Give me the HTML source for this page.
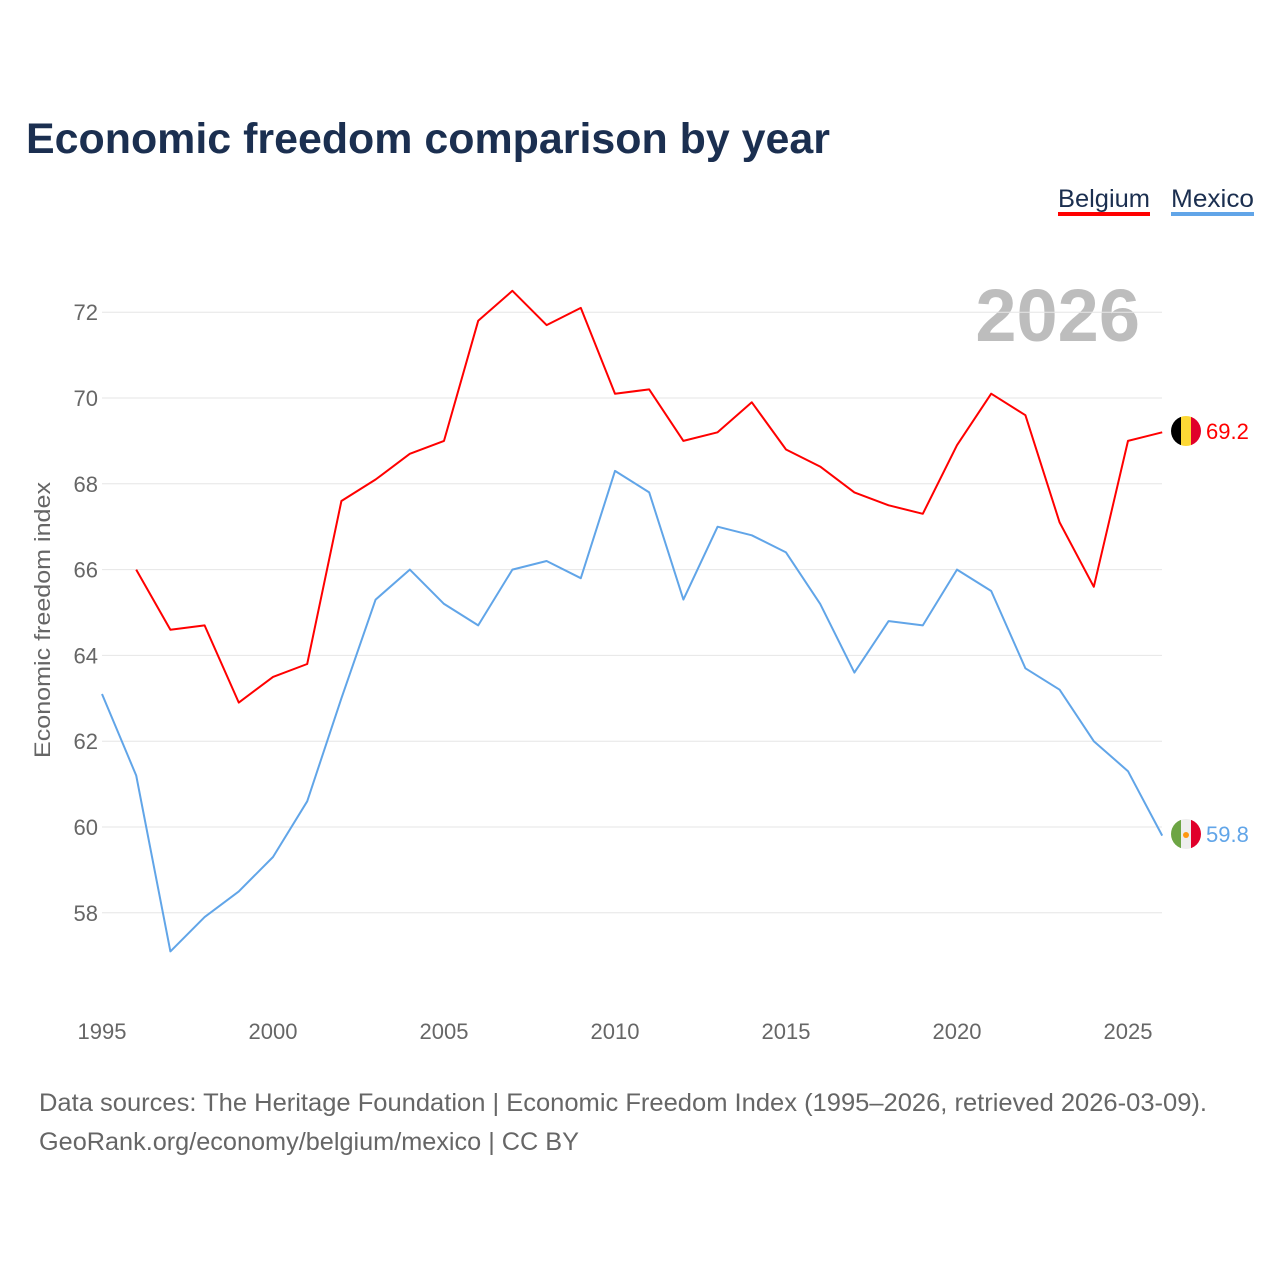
<!DOCTYPE html>
<html><head><meta charset="utf-8"><style>
body{margin:0;background:#fff;font-family:"Liberation Sans",sans-serif;}
svg text{font-family:"Liberation Sans",sans-serif;}
</style></head><body>
<svg id="chart" width="1280" height="1280" viewBox="0 0 1280 1280">
<rect width="1280" height="1280" fill="#fff"/>
<text x="26" y="153" font-size="43" font-weight="bold" fill="#1b2f50" textLength="804" lengthAdjust="spacingAndGlyphs">Economic freedom comparison by year</text>
<g><text x="1058" y="207" font-size="25" fill="#1b2f50" textLength="92" lengthAdjust="spacingAndGlyphs">Belgium</text><rect x="1058" y="212" width="92" height="4" fill="#ff0000"/></g>
<g><text x="1171" y="207" font-size="25" fill="#1b2f50" textLength="83" lengthAdjust="spacingAndGlyphs">Mexico</text><rect x="1171" y="212" width="83" height="4" fill="#61a5e8"/></g>
<text x="1140" y="341" font-size="74" font-weight="bold" fill="#bdbdbd" text-anchor="end">2026</text>
<text transform="translate(50,620) rotate(-90)" font-size="22" fill="#666" text-anchor="middle" textLength="276" lengthAdjust="spacingAndGlyphs">Economic freedom index</text>
<g id="grid"></g><g id="yticks"></g><g id="xticks"></g><g id="lines"></g>
<g>
<clipPath id="cb"><circle cx="1186" cy="431" r="15"/></clipPath>
<g clip-path="url(#cb)"><rect x="1171" y="416" width="10" height="30" fill="#000"/><rect x="1181" y="416" width="10" height="30" fill="#fdd835"/><rect x="1191" y="416" width="10" height="30" fill="#e0002a"/></g>
<text x="1206" y="439" font-size="22" fill="#ff0000">69.2</text></g>
<g>
<clipPath id="cm"><circle cx="1186" cy="834" r="15"/></clipPath>
<g clip-path="url(#cm)"><rect x="1171" y="819" width="10" height="30" fill="#6da544"/><rect x="1181" y="819" width="10" height="30" fill="#eee"/><rect x="1191" y="819" width="10" height="30" fill="#e0002a"/><circle cx="1186" cy="835" r="3" fill="#ff9811"/></g>
<text x="1206" y="842" font-size="22" fill="#61a5e8">59.8</text></g>
<text x="39" y="1111" font-size="25" fill="#666" textLength="1168" lengthAdjust="spacingAndGlyphs">Data sources: The Heritage Foundation | Economic Freedom Index (1995–2026, retrieved 2026-03-09).</text>
<text x="39" y="1150" font-size="25" fill="#666" textLength="540" lengthAdjust="spacingAndGlyphs">GeoRank.org/economy/belgium/mexico | CC BY</text>
</svg>
<script>
const years=[1995,1996,1997,1998,1999,2000,2001,2002,2003,2004,2005,2006,2007,2008,2009,2010,2011,2012,2013,2014,2015,2016,2017,2018,2019,2020,2021,2022,2023,2024,2025,2026];
const belgium=[null,66.0,64.6,64.7,62.9,63.5,63.8,67.6,68.1,68.7,69.0,71.8,72.5,71.7,72.1,70.1,70.2,69.0,69.2,69.9,68.8,68.4,67.8,67.5,67.3,68.9,70.1,69.6,67.1,65.6,69.0,69.2];
const mexico=[63.1,61.2,57.1,57.9,58.5,59.3,60.6,63.0,65.3,66.0,65.2,64.7,66.0,66.2,65.8,68.3,67.8,65.3,67.0,66.8,66.4,65.2,63.6,64.8,64.7,66.0,65.5,63.7,63.2,62.0,61.3,59.8];
const yTicks=[58,60,62,64,66,68,70,72];
const xTicks=[1995,2000,2005,2010,2015,2020,2025];
const NS='http://www.w3.org/2000/svg';
const x=v=>102+(v-1995)*34.2;
const y=v=>827-(v-60)*42.9;
function mk(t,a,p){const e=document.createElementNS(NS,t);for(const k in a)e.setAttribute(k,a[k]);p.appendChild(e);return e;}
const grid=document.getElementById('grid'),yt=document.getElementById('yticks'),xt=document.getElementById('xticks'),ln=document.getElementById('lines');
yTicks.forEach(v=>{
 const l=mk('line',{x1:102,x2:1162,y1:y(v),y2:y(v),stroke:'#e6e6e6','stroke-width':1},grid);
 
 
 const t=mk('text',{x:98,y:y(v)+8,'font-size':22,fill:'#666','text-anchor':'end'},yt);t.textContent=v;
 
 
});
xTicks.forEach(v=>{
 const t=mk('text',{x:x(v),y:1039,'font-size':22,fill:'#666','text-anchor':'middle'},xt);t.textContent=v;
 
 
});
function series(vals,color,name){
 const pts=[];vals.forEach((v,i)=>{if(v!==null)pts.push(x(years[i]).toFixed(1)+','+y(v).toFixed(1));});
 const p=mk('polyline',{points:pts.join(' '),fill:'none',stroke:color,'stroke-width':2,'stroke-linejoin':'round'},ln);
 
 
}
series(mexico,'#61a5e8','line-mexico');
series(belgium,'#ff0000','line-belgium');
</script>
</body></html>
